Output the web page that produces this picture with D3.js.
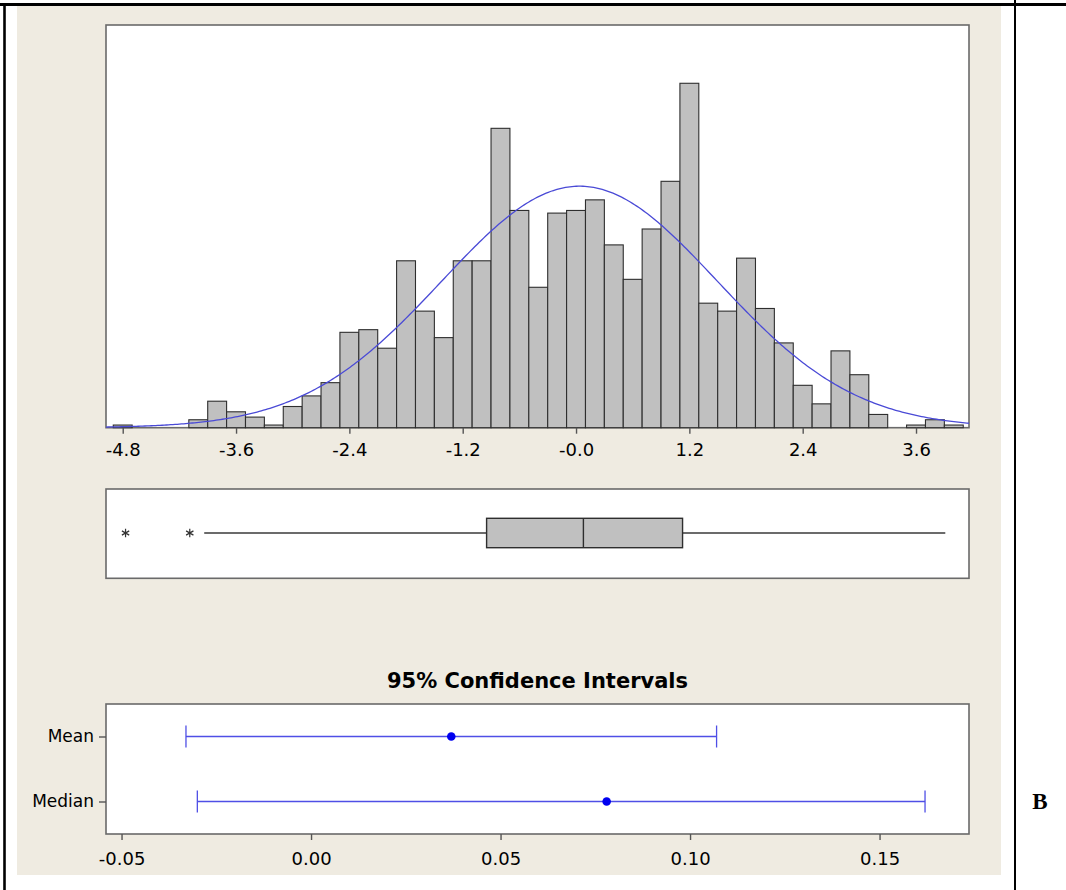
<!DOCTYPE html>
<html>
<head>
<meta charset="utf-8">
<script src="https://cdn.jsdelivr.net/npm/d3@7"></script>
<style>
  html, body { margin: 0; padding: 0; background: #ffffff; }
  svg { display: block; }
  text { font-family: "DejaVu Sans", Verdana, sans-serif; fill: #000; }
</style>
</head>
<body>
<svg id="chart" width="1066" height="890"></svg>
<script>
// ---- Histogram: bin centres (width 0.2) and counts ----
const binWidth = 0.2;
const binCenters = [-4.8,-4.6,-4.4,-4.2,-4.0,-3.8,-3.6,-3.4,-3.2,-3.0,-2.8,-2.6,-2.4,-2.2,-2.0,
  -1.8,-1.6,-1.4,-1.2,-1.0,-0.8,-0.6,-0.4,-0.2,0.0,0.2,0.4,0.6,0.8,1.0,1.2,1.4,1.6,1.8,2.0,
  2.2,2.4,2.6,2.8,3.0,3.2,3.4,3.6,3.8,4.0];
const binCounts = [1,0,0,0,3,10,6,4,1,8,12,17,36,37,30,63,44,34,63,63,113,82,53,81,82,86,69,56,
  75,93,130,47,44,64,45,32,16,9,29,20,5,0,1,3,1];

// Fitted normal parameters
const fitMean = 0.037;
const fitStDev = 1.46;

// Histogram axis ticks
const histTickValues = [-4.8,-3.6,-2.4,-1.2,0,1.2,2.4,3.6];
const histTickLabels = ["-4.8","-3.6","-2.4","-1.2","-0.0","1.2","2.4","3.6"];

// ---- Boxplot summary ----
const boxQ1 = -0.947;
const boxMedian = 0.078;
const boxQ3 = 1.128;
const whiskerLow = -3.937;
const whiskerHigh = 3.91;
const outliers = [-4.77, -4.09];

// ---- 95% confidence intervals ----
const ciNames = ["Mean", "Median"];
const ciEstimates = [0.037, 0.078];
const ciLower = [-0.033, -0.030];
const ciUpper = [0.107, 0.162];
const ciTickValues = [-0.05, 0.00, 0.05, 0.10, 0.15];
const ciTickLabels = ["-0.05", "0.00", "0.05", "0.10", "0.15"];

const svg = d3.select("#chart");

// page frame and panel background
svg.append("rect").attr("x", 17).attr("y", 6).attr("width", 984).attr("height", 869).attr("fill", "#efebe1");
svg.append("line").attr("x1", 0).attr("x2", 1066).attr("y1", 4.5).attr("y2", 4.5).attr("stroke", "#000").attr("stroke-width", 3);
svg.append("line").attr("x1", 4.5).attr("x2", 4.5).attr("y1", 3).attr("y2", 890).attr("stroke", "#000").attr("stroke-width", 2.6);
svg.append("line").attr("x1", 1015).attr("x2", 1015).attr("y1", 0).attr("y2", 890).attr("stroke", "#000").attr("stroke-width", 2);
svg.append("text").attr("x", 1040).attr("y", 809).attr("text-anchor", "middle")
  .style("font-family", "'Liberation Serif', 'Times New Roman', serif").style("font-weight", "bold").style("font-size", "23px")
  .text("B");

const left = 106, right = 969;

function frame(top, bottom) {
  svg.append("rect").attr("x", left).attr("y", top).attr("width", right - left).attr("height", bottom - top)
    .attr("fill", "#ffffff").attr("stroke", "#6a6a6a").attr("stroke-width", 1.6);
}

// ================= Histogram =================
const hTop = 25, hBottom = 427.7;
const x = d3.scaleLinear().domain([-4.977, 4.161]).range([left, right]);
const y = d3.scaleLinear().domain([0, 152]).range([hBottom, hTop]);

frame(hTop, hBottom);

const bins = binCenters.map((c, i) => ({ c, n: binCounts[i] })).filter(d => d.n > 0);
svg.append("g").selectAll("rect").data(bins).join("rect")
  .attr("x", d => x(d.c - binWidth / 2))
  .attr("width", d => x(d.c + binWidth / 2) - x(d.c - binWidth / 2))
  .attr("y", d => y(d.n))
  .attr("height", d => y(0) - y(d.n))
  .attr("fill", "#c0c0c0")
  .attr("stroke", "#2e2e2e")
  .attr("stroke-width", 1.1);

// normal curve scaled to counts per bin
const total = d3.sum(binCounts);
const dens = v => total * binWidth * Math.exp(-0.5 * ((v - fitMean) / fitStDev) ** 2) / (fitStDev * Math.sqrt(2 * Math.PI));
const [x0, x1] = x.domain();
const curvePts = d3.range(0, 401).map(i => x0 + (x1 - x0) * i / 400);
svg.append("path")
  .datum(curvePts)
  .attr("d", d3.line().x(v => x(v)).y(v => y(dens(v))))
  .attr("fill", "none")
  .attr("stroke", "#4a4ad6")
  .attr("stroke-width", 1.3);

const hAxis = svg.append("g").attr("transform", `translate(0,${hBottom})`)
  .call(d3.axisBottom(x).tickValues(histTickValues)
    .tickFormat((d, i) => histTickLabels[i]).tickSize(6).tickPadding(10));
hAxis.select(".domain").remove();
hAxis.selectAll("line").attr("stroke", "#555").attr("stroke-width", 1.4);
hAxis.selectAll("text").style("font-size", "18px").style("font-family", "'DejaVu Sans', sans-serif").attr("fill", "#000");

// ================= Boxplot =================
const bTop = 489, bBottom = 578.3;
frame(bTop, bBottom);
const bMid = 533, bHalf = 14.7;

const gBox = svg.append("g");
gBox.append("line").attr("x1", x(whiskerLow)).attr("x2", x(boxQ1)).attr("y1", bMid).attr("y2", bMid)
  .attr("stroke", "#3a3a3a").attr("stroke-width", 1.3);
gBox.append("line").attr("x1", x(boxQ3)).attr("x2", x(whiskerHigh)).attr("y1", bMid).attr("y2", bMid)
  .attr("stroke", "#3a3a3a").attr("stroke-width", 1.3);
gBox.append("rect").attr("x", x(boxQ1)).attr("width", x(boxQ3) - x(boxQ1))
  .attr("y", bMid - bHalf).attr("height", 2 * bHalf)
  .attr("fill", "#c0c0c0").attr("stroke", "#2e2e2e").attr("stroke-width", 1.4);
gBox.append("line").attr("x1", x(boxMedian)).attr("x2", x(boxMedian))
  .attr("y1", bMid - bHalf).attr("y2", bMid + bHalf)
  .attr("stroke", "#2e2e2e").attr("stroke-width", 1.4);
const asterisk = d3.symbol().type(d3.symbolAsterisk || d3.symbolCross).size(50);
gBox.selectAll("path.outlier").data(outliers).join("path")
  .attr("class", "outlier")
  .attr("transform", d => `translate(${x(d)},${bMid})`)
  .attr("d", asterisk)
  .attr("fill", "none")
  .attr("stroke", "#333")
  .attr("stroke-width", 1.2);

// ================= Confidence intervals =================
const cTop = 704, cBottom = 834;
svg.append("text").attr("x", (left + right) / 2).attr("y", 688).attr("text-anchor", "middle")
  .style("font-weight", "bold").style("font-size", "21px").text("95% Confidence Intervals");
frame(cTop, cBottom);

const cx = d3.scaleLinear().domain([-0.0541, 0.1736]).range([left, right]);
const cy = d3.scalePoint().domain(ciNames).range([cTop, cBottom]).padding(0.5);

const cxAxis = svg.append("g").attr("transform", `translate(0,${cBottom})`)
  .call(d3.axisBottom(cx).tickValues(ciTickValues)
    .tickFormat((d, i) => ciTickLabels[i]).tickSize(6).tickPadding(12));
cxAxis.select(".domain").remove();
cxAxis.selectAll("line").attr("stroke", "#555").attr("stroke-width", 1.4);
cxAxis.selectAll("text").style("font-size", "18px").style("font-family", "'DejaVu Sans', sans-serif").attr("fill", "#000");

const cyAxis = svg.append("g").attr("transform", `translate(${left},0)`)
  .call(d3.axisLeft(cy).tickSize(7).tickPadding(5));
cyAxis.select(".domain").remove();
cyAxis.selectAll("line").attr("stroke", "#555").attr("stroke-width", 1.4);
cyAxis.selectAll("text").style("font-size", "17px").style("font-family", "'DejaVu Sans', sans-serif").attr("fill", "#000");

const ci = ciNames.map((name, i) => ({ name, est: ciEstimates[i], lo: ciLower[i], hi: ciUpper[i] }));
const gCi = svg.append("g");
gCi.selectAll("line.span").data(ci).join("line").attr("class", "span")
  .attr("x1", d => cx(d.lo)).attr("x2", d => cx(d.hi))
  .attr("y1", d => cy(d.name)).attr("y2", d => cy(d.name))
  .attr("stroke", "#4f4fe6").attr("stroke-width", 1.3);
gCi.selectAll("line.capL").data(ci).join("line").attr("class", "capL")
  .attr("x1", d => cx(d.lo)).attr("x2", d => cx(d.lo))
  .attr("y1", d => cy(d.name) - 11).attr("y2", d => cy(d.name) + 11)
  .attr("stroke", "#4f4fe6").attr("stroke-width", 1.3);
gCi.selectAll("line.capR").data(ci).join("line").attr("class", "capR")
  .attr("x1", d => cx(d.hi)).attr("x2", d => cx(d.hi))
  .attr("y1", d => cy(d.name) - 11).attr("y2", d => cy(d.name) + 11)
  .attr("stroke", "#4f4fe6").attr("stroke-width", 1.3);
gCi.selectAll("circle").data(ci).join("circle")
  .attr("cx", d => cx(d.est)).attr("cy", d => cy(d.name)).attr("r", 4.3)
  .attr("fill", "#0000f0");
</script>
</body>
</html>
